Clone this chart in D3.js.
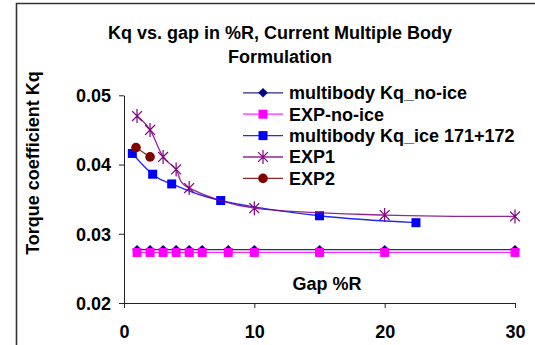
<!DOCTYPE html>
<html>
<head>
<meta charset="utf-8">
<script src="https://cdn.jsdelivr.net/npm/d3@7"></script>
<style>
  html, body { margin: 0; padding: 0; background: #fff; }
  svg { display: block; font-family: "Liberation Sans", Arial, sans-serif; font-weight: bold; }
</style>
</head>
<body>
<svg id="chart" width="535" height="345"></svg>
<script>
// Gap in %R and torque coefficient Kq for each series
const gapNoIce = [1, 2, 3, 4, 5, 6, 8, 10, 15, 20, 30];
const kqMultibodyNoIce = [0.0277, 0.0277, 0.0277, 0.0277, 0.0277, 0.0277, 0.0277, 0.0277, 0.0277, 0.0277, 0.0277];
const kqExpNoIce = [0.0273, 0.0273, 0.0273, 0.0273, 0.0273, 0.0273, 0.0273, 0.0273, 0.0273, 0.0273, 0.0273];

const gapIce = [0.64, 2.2, 3.66, 7.42, 15, 22.4];
const kqMultibodyIce = [0.0416, 0.0386, 0.0372, 0.0348, 0.0326, 0.0316];

const gapExp1 = [1, 2, 3, 4, 5, 10, 20, 30];
const kqExp1 = [0.0470, 0.0450, 0.0411, 0.0393, 0.0366, 0.0337, 0.0327, 0.0325];

const gapExp2 = [0.92, 2];
const kqExp2 = [0.04245, 0.0411];

const xTicks = [0, 10, 20, 30];
const yTicks = [0.02, 0.03, 0.04, 0.05];

const seriesNames = ["multibody Kq_no-ice", "EXP-no-ice", "multibody Kq_ice 171+172", "EXP1", "EXP2"];

const series = [
  { name: seriesNames[0], xs: gapNoIce, ys: kqMultibodyNoIce, color: "#000080", marker: "diamond", smooth: false },
  { name: seriesNames[1], xs: gapNoIce, ys: kqExpNoIce, color: "#FF00FF", marker: "square", smooth: false },
  { name: seriesNames[2], xs: gapIce, ys: kqMultibodyIce, color: "#0000FF", marker: "square", smooth: true },
  { name: seriesNames[3], xs: gapExp1, ys: kqExp1, color: "#800080", marker: "star", smooth: true },
  { name: seriesNames[4], xs: gapExp2, ys: kqExp2, color: "#800000", marker: "circle", smooth: true }
];

const svg = d3.select("#chart");
const plot = { left: 124, right: 515, top: 95.3, bottom: 303 };

const x = d3.scaleLinear().domain([0, 30]).range([plot.left, plot.right]);
const y = d3.scaleLinear().domain([0.02, 0.05]).range([plot.bottom, plot.top]);

// Outer chart frame (top and left edges)
svg.append("path")
  .attr("d", "M16.5,345 L16.5,3.5 L535,3.5")
  .attr("fill", "none").attr("stroke", "#333").attr("stroke-width", 1.6);

// Title
const title = svg.append("text").attr("x", 280).attr("text-anchor", "middle")
  .attr("font-size", 18).attr("fill", "#000");
title.append("tspan").attr("x", 280).attr("y", 38.5).text("Kq vs. gap in %R, Current Multiple Body");
title.append("tspan").attr("x", 280).attr("y", 63).text("Formulation");

// Axes
const xAxis = svg.append("g").attr("transform", `translate(0,${plot.bottom})`)
  .call(d3.axisBottom(x).tickValues(xTicks).tickFormat(d3.format("d")).tickSizeInner(5).tickSizeOuter(0));
const yAxis = svg.append("g").attr("transform", `translate(${plot.left},0)`)
  .call(d3.axisLeft(y).tickValues(yTicks).tickFormat(d3.format(".2f")).tickSizeInner(5).tickSizeOuter(0));

[xAxis, yAxis].forEach(g => {
  g.select(".domain").attr("stroke", "#222").attr("stroke-width", 1);
  g.selectAll(".tick line").attr("stroke", "#222");
  g.selectAll(".tick text").attr("fill", "#000").attr("font-size", 18)
    .attr("font-family", "Liberation Sans, Arial, sans-serif").attr("font-weight", "bold");
});
xAxis.selectAll(".tick text").attr("dy", "0").attr("y", 35);
yAxis.selectAll(".tick text").attr("x", -13).attr("dy", "0.35em");

// Axis titles
svg.append("text").attr("transform", "translate(38.5,163) rotate(-90)")
  .attr("text-anchor", "middle").attr("font-size", 18).text("Torque coefficient Kq");
svg.append("text").attr("x", 327).attr("y", 289.5)
  .attr("text-anchor", "middle").attr("font-size", 18).text("Gap %R");

// Marker drawing
function drawMarker(g, type, color, cx, cy) {
  if (type === "diamond") {
    g.append("path").attr("d", `M${cx},${cy - 4.5} L${cx + 4.5},${cy} L${cx},${cy + 4.5} L${cx - 4.5},${cy} Z`)
      .attr("fill", color).attr("stroke", color).attr("stroke-width", 0.5);
  } else if (type === "square") {
    g.append("rect").attr("x", cx - 4.5).attr("y", cy - 4.5).attr("width", 9).attr("height", 9)
      .attr("fill", color);
  } else if (type === "circle") {
    g.append("circle").attr("cx", cx).attr("cy", cy).attr("r", 4.8).attr("fill", color);
  } else if (type === "star") {
    const r = 7;
    const d = r * Math.SQRT1_2;
    g.append("path")
      .attr("d", `M${cx - d},${cy - d} L${cx + d},${cy + d} M${cx - d},${cy + d} L${cx + d},${cy - d} M${cx},${cy - r} L${cx},${cy + r}`)
      .attr("stroke", color).attr("stroke-width", 1.2).attr("fill", "none");
  }
}

// Series lines and markers
series.forEach(s => {
  const pts = s.xs.map((v, i) => [x(v), y(s.ys[i])]);
  const line = d3.line().curve(s.smooth ? d3.curveCatmullRom.alpha(0) : d3.curveLinear);
  const g = svg.append("g");
  g.append("path").attr("d", line(pts)).attr("fill", "none")
    .attr("stroke", s.color).attr("stroke-width", 1.3).attr("stroke-opacity", 0.85);
  pts.forEach(p => drawMarker(g, s.marker, s.color, p[0], p[1]));
});

// Legend
const legendRowsY = [92.8, 114.2, 135.6, 157.0, 178.4];
series.forEach((s, i) => {
  const ly = legendRowsY[i];
  const g = svg.append("g");
  g.append("line").attr("x1", 243).attr("x2", 283).attr("y1", ly).attr("y2", ly)
    .attr("stroke", s.color).attr("stroke-width", 1.3).attr("stroke-opacity", 0.85);
  drawMarker(g, s.marker, s.color, 263, ly);
  g.append("text").attr("x", 289).attr("y", ly).attr("dy", "0.36em")
    .attr("font-size", 18).attr("fill", "#000").text(s.name);
});
</script>
</body>
</html>
